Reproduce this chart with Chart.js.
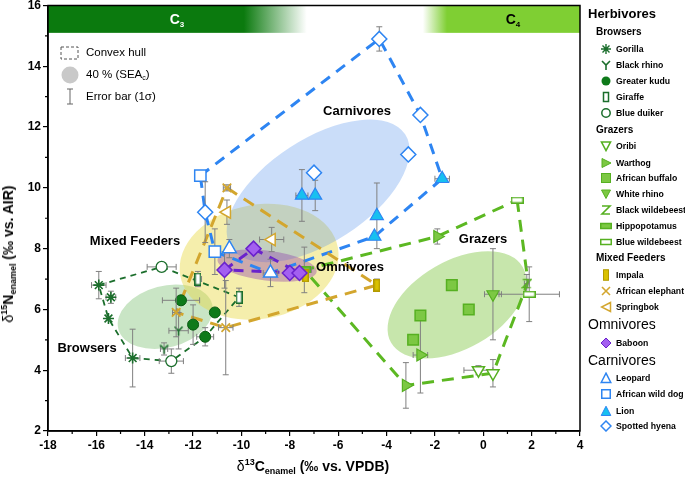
<!DOCTYPE html>
<html>
<head>
<meta charset="utf-8">
<script src="https://cdn.jsdelivr.net/npm/chart.js@4.4.1/dist/chart.umd.min.js"></script>
<style>
  body { margin: 0; background: #fff; font-family: "Liberation Sans", Arial, sans-serif; }
  #wrap { position: relative; width: 685px; height: 477px; overflow: hidden; }
  #chart { position: absolute; left: 0; top: 0; }
  .t { position: absolute; white-space: nowrap; color: #000; line-height: 1; }
  .c { transform: translate(-50%, -50%); }
  .grp { font-weight: bold; font-size: 13px; }
  .band { font-weight: bold; font-size: 14px; }
  .band sub { font-size: 8px; vertical-align: -3px; }
  .ax { font-weight: bold; font-size: 14px; }
  .ax sup { font-size: 9px; vertical-align: 6px; }
  .ax sub { font-size: 9px; vertical-align: -3px; }
  .ax .d { font-weight: normal; }
  .il { font-size: 11.5px; transform: translateY(-50%); }
  .il sub { font-size: 7px; vertical-align: -2px; }
  .lg { transform: translateY(-50%); }
  .h1 { font-weight: bold; font-size: 13px; }
  .h2 { font-weight: bold; font-size: 10px; }
  .h3 { font-size: 14px; }
  .it { font-weight: bold; font-size: 8.7px; }
  svg.ic { position: absolute; }
</style>
</head>
<body>
<div id="wrap">
  <canvas id="chart" width="685" height="477"></canvas>

  <div class="t band c" style="left:177px; top:20px; color:#fff;">C<sub>3</sub></div>
  <div class="t band c" style="left:513px; top:20px;">C<sub>4</sub></div>

  <div class="t grp c" style="left:357px; top:110px;">Carnivores</div>
  <div class="t grp c" style="left:135px; top:240px;">Mixed Feeders</div>
  <div class="t grp c" style="left:350px; top:266px;">Omnivores</div>
  <div class="t grp c" style="left:483px; top:238px;">Grazers</div>
  <div class="t grp c" style="left:87px; top:347px;">Browsers</div>

  <svg class="ic" style="left:60px; top:46px;" width="20" height="15"><rect x="1" y="1" width="17" height="12" fill="none" stroke="#555" stroke-width="1" stroke-dasharray="3,2"/></svg>
  <div class="t il" style="left:86px; top:53px;">Convex hull</div>
  <svg class="ic" style="left:61px; top:66px;" width="18" height="18"><circle cx="9" cy="9" r="8.5" fill="#c9c9c9"/></svg>
  <div class="t il" style="left:86px; top:75px;">40 % (SEA<sub>c</sub>)</div>
  <svg class="ic" style="left:66px; top:88px;" width="8" height="17"><path d="M1 1H7M4 1V16M1 16H7" fill="none" stroke="#666" stroke-width="1"/></svg>
  <div class="t il" style="left:86px; top:97px;">Error bar (1σ)</div>

  <div class="t ax c" style="left:313px; top:467px;"><span class="d">δ</span><sup>13</sup>C<sub>enamel</sub> (‰ vs. VPDB)</div>
  <div class="t ax" style="left:9px; top:254px; transform: translate(-50%, -50%) rotate(-90deg);"><span class="d">δ</span><sup>15</sup>N<sub>enamel</sub> (‰ vs. AIR)</div>

  <div id="legend"></div>
</div>

<script>
// ---- data: [δ13C, δ15N, σ x, σ y] ----
// Browsers
var gorilla      = [[-15.9, 6.8, 0.3, 0.45], [-15.4, 6.4, 0.2, 0.2], [-15.5, 5.7, 0, 0], [-14.5, 4.4, 0.3, 0.95]];
var blackRhino   = [[-12.6, 5.3, 0.4, 0.6], [-13.2, 4.7, 0.15, 0.2]];
var greaterKudu  = [[-12.5, 6.3, 0.77, 0], [-12.0, 5.5, 0.2, 0.65], [-11.1, 5.9, 0, 0], [-11.5, 5.1, 0.35, 0.3]];
var giraffe      = [[-11.8, 7.0, 0.15, 0.25], [-10.1, 6.4, 0.05, 0.3]];
var blueDuiker   = [[-13.3, 7.4, 0.6, 0.05], [-12.9, 4.3, 0.5, 0.4]];
// Grazers
var oribi        = [[-0.2, 4.0, 0.6, 0.15], [0.4, 3.9, 0.05, 0.45]];
var warthog      = [[-3.2, 3.5, 0.1, 0.75], [-2.6, 4.5, 0.3, 1.25], [-1.9, 8.4, 0.05, 0.25]];
var buffalo      = [[-2.9, 5.0, 0, 0], [-2.6, 5.8, 0, 0], [-1.3, 6.8, 0, 0], [-0.6, 6.0, 0, 0]];
var whiteRhino   = [[0.4, 6.5, 0.35, 1.5]];
var blackWildebeest = [[1.8, 6.85, 0.1, 0.3]];
var hippopotamus = [[-7.4, 7.3, 0.3, 0.75]];
var blueWildebeest = [[1.9, 6.5, 1.25, 0.9], [1.4, 9.6, 0, 0]];
// Mixed feeders
var impala       = [[-4.4, 6.8, 0.1, 0.2], [-7.35, 7.1, 0, 0]];
var elephant     = [[-10.6, 10.0, 0.15, 0.1], [-12.7, 5.9, 0.15, 0.8], [-10.65, 5.4, 0.3, 1.55]];
var springbok    = [[-10.6, 9.2, 0, 0.4], [-8.75, 8.3, 0.5, 0.4]];
// Omnivores
var baboon       = [[-10.7, 7.3, 0, 0.6], [-9.5, 8.0, 0, 0], [-8.0, 7.2, 0, 0], [-7.6, 7.2, 0, 0]];
// Carnivores
var leopard      = [[-10.5, 8.0, 0, 0.3], [-8.8, 7.2, 0.3, 0.45]];
var wildDog      = [[-11.7, 10.4, 0, 0], [-11.1, 7.9, 0, 0.75]];
var lion         = [[-7.5, 9.75, 0.25, 0.85], [-6.95, 9.75, 0, 0.5], [-4.4, 9.08, 0, 1.08], [-4.5, 8.4, 0, 0], [-1.7, 10.3, 0.3, 0]];
var hyena        = [[-4.3, 14.9, 0, 0.4], [-2.6, 12.4, 0, 0], [-3.1, 11.1, 0, 0], [-7.0, 10.5, 0, 0], [-11.5, 9.2, 0, 1.0]];

// convex hulls
var hullBrowsers   = [[-15.9, 6.8], [-13.3, 7.4], [-10.1, 6.4], [-11.5, 5.1], [-12.9, 4.3], [-14.5, 4.4], [-15.5, 5.7], [-15.9, 6.8]];
var hullGrazers    = [[1.4, 9.6], [1.85, 6.9], [0.4, 3.9], [-3.2, 3.5], [-7.4, 7.3], [-1.9, 8.4], [1.4, 9.6]];
var hullMixed      = [[-10.6, 10.0], [-4.4, 6.8], [-10.65, 5.4], [-12.7, 5.9], [-10.6, 10.0]];
var hullOmnivores  = [[-10.7, 7.3], [-9.5, 8.0], [-7.6, 7.2], [-10.7, 7.3]];
var hullCarnivores = [[-11.7, 10.4], [-4.3, 14.9], [-2.6, 12.4], [-1.7, 10.3], [-4.5, 8.4], [-8.8, 7.2], [-11.1, 7.9], [-11.5, 9.2], [-11.7, 10.4]];

// SEAc ellipses: centre x, centre y, half axis 1 (dx, dy), half axis 2 (dx, dy)
var seaBrowsers   = [-13.15, 5.76, 1.94, 0.41, -0.33, 0.98];
var seaMixed      = [-9.27, 7.57, 3.26, 0.46, -0.41, 1.85];
var seaCarnivores = [-6.83, 9.90, 3.60, 1.86, -1.17, 1.43];
var seaOmnivores  = [-8.94, 7.44, 2.05, -0.20, 0.076, 0.49];
var seaGrazers    = [-1.09, 6.15, 2.72, 1.25, -0.91, 1.25];

// C3 / C4 band
var bandY  = [15.1, 16];
var c3Band = [-18, -9.9, -7.3];
var c4Band = [-2.5, -1.5, 4];

var DG = '#1b6e2c', KUDU = '#0e7a1a', LGB = '#56b021', LGF = '#7cc843', GOLD = '#d3a62e',
    IMP = '#d9c100', PURB = '#6a22cc', PURF = '#a35ff0', BLU = '#2e85f2', CYAN = '#17c0f0';

function icon(w, h, draw) {
  var c = document.createElement('canvas');
  c.width = w; c.height = h;
  draw(c.getContext('2d'));
  return c;
}
var yIcon = icon(11, 11, function (g) {
  g.strokeStyle = DG; g.lineWidth = 1.6; g.beginPath();
  g.moveTo(1.5, 1.5); g.lineTo(5.5, 5.5); g.lineTo(9.5, 1.5); g.moveTo(5.5, 5.5); g.lineTo(5.5, 10.5); g.stroke();
});
var zIcon = icon(11, 11, function (g) {
  g.strokeStyle = LGB; g.lineWidth = 1.6; g.beginPath();
  g.moveTo(1.5, 1.5); g.lineTo(9.5, 1.5); g.lineTo(1.5, 9.5); g.lineTo(9.5, 9.5); g.stroke();
});
function boxIcon(w, h, fill, stroke) {
  return icon(w, h, function (g) {
    g.fillStyle = fill; g.fillRect(1, 1, w - 2, h - 2);
    g.strokeStyle = stroke; g.lineWidth = 1.5; g.strokeRect(0.75, 0.75, w - 1.5, h - 1.5);
  });
}
var giraffeIcon = boxIcon(7, 13, '#fff', DG);
var impalaIcon  = boxIcon(7, 13, IMP, '#b39a00');
var hippoIcon   = boxIcon(13, 7, LGF, LGB);
var blueWbIcon  = boxIcon(13, 7, '#fff', LGB);

function species(arr, style) {
  var d = {
    data: arr.map(function (p) { return {x: p[0], y: p[1]}; }),
    errors: arr.map(function (p) { return [p[2], p[3]]; }),
    showLine: false, order: 0, pointRadius: 5, pointBorderWidth: 1.5
  };
  for (var k in style) d[k] = style[k];
  return d;
}
function hull(arr, color, width, dash) {
  return {
    data: arr.map(function (p) { return {x: p[0], y: p[1]}; }),
    showLine: true, pointRadius: 0, borderColor: color, borderWidth: width, borderDash: dash, fill: false, order: 5
  };
}

var datasets = [
  hull(hullBrowsers, DG, 1.8, [6, 5]),
  hull(hullMixed, GOLD, 3, [12, 8]),
  hull(hullGrazers, '#5cb822', 3, [12, 8]),
  hull(hullOmnivores, PURB, 3, [10, 8]),
  hull(hullCarnivores, BLU, 3, [11, 8]),

  species(hyena, {pointStyle: 'rectRot', pointRadius: 7.5, pointBackgroundColor: '#fff', pointBorderColor: BLU}),
  species(lion, {pointStyle: 'triangle', pointRadius: 7.5, pointBackgroundColor: CYAN, pointBorderColor: BLU, pointBorderWidth: 1.2}),
  species(wildDog, {pointStyle: 'rect', pointRadius: 8, pointBackgroundColor: '#fff', pointBorderColor: BLU}),
  species(leopard, {pointStyle: 'triangle', pointRadius: 8, pointBackgroundColor: '#fff', pointBorderColor: BLU}),
  species(baboon, {pointStyle: 'rectRot', pointRadius: 7.5, pointBackgroundColor: PURF, pointBorderColor: PURB}),
  species(springbok, {pointStyle: 'triangle', pointRotation: -90, pointRadius: 7, pointBackgroundColor: '#fff', pointBorderColor: GOLD}),
  species(elephant, {pointStyle: 'crossRot', pointRadius: 6, pointBorderColor: GOLD, pointBorderWidth: 1.8}),
  species(impala, {pointStyle: impalaIcon}),
  species(blueWildebeest, {pointStyle: blueWbIcon}),
  species(hippopotamus, {pointStyle: hippoIcon}),
  species(blackWildebeest, {pointStyle: zIcon}),
  species(whiteRhino, {pointStyle: 'triangle', pointRotation: 180, pointRadius: 7, pointBackgroundColor: LGF, pointBorderColor: LGB, pointBorderWidth: 1.2}),
  species(buffalo, {pointStyle: 'rect', pointRadius: 7.5, pointBackgroundColor: LGF, pointBorderColor: LGB}),
  species(warthog, {pointStyle: 'triangle', pointRotation: 90, pointRadius: 7, pointBackgroundColor: LGF, pointBorderColor: LGB, pointBorderWidth: 1.2}),
  species(oribi, {pointStyle: 'triangle', pointRotation: 180, pointRadius: 7, pointBackgroundColor: '#fff', pointBorderColor: LGB}),
  species(blueDuiker, {pointStyle: 'circle', pointRadius: 5.5, pointBackgroundColor: '#fff', pointBorderColor: DG, pointBorderWidth: 1.3}),
  species(giraffe, {pointStyle: giraffeIcon}),
  species(greaterKudu, {pointStyle: 'circle', pointRadius: 5.5, pointBackgroundColor: KUDU, pointBorderColor: '#0a5c12', pointBorderWidth: 1}),
  species(blackRhino, {pointStyle: yIcon}),
  species(gorilla, {pointStyle: 'star', pointRadius: 5.5, pointBorderColor: DG, pointBorderWidth: 1.6})
];

var seas = [
  [seaBrowsers, 'rgba(100,180,90,0.35)'],
  [seaMixed, 'rgba(232,218,70,0.45)'],
  [seaCarnivores, 'rgba(90,150,235,0.32)'],
  [seaOmnivores, 'rgba(140,60,170,0.38)'],
  [seaGrazers, 'rgba(130,200,70,0.45)']
];

var seaPlugin = {
  id: 'sea',
  beforeDatasetsDraw: function (chart) {
    var ctx = chart.ctx, xs = chart.scales.x, ys = chart.scales.y, a = chart.chartArea;
    ctx.save();
    ctx.beginPath(); ctx.rect(a.left, a.top, a.right - a.left, a.bottom - a.top); ctx.clip();
    seas.forEach(function (s) {
      var p = s[0];
      var cx = xs.getPixelForValue(p[0]), cy = ys.getPixelForValue(p[1]);
      var ux = xs.getPixelForValue(p[0] + p[2]) - cx, uy = ys.getPixelForValue(p[1] + p[3]) - cy;
      var vx = xs.getPixelForValue(p[0] + p[4]) - cx, vy = ys.getPixelForValue(p[1] + p[5]) - cy;
      ctx.save();
      ctx.transform(ux, uy, vx, vy, cx, cy);
      ctx.beginPath(); ctx.arc(0, 0, 1, 0, Math.PI * 2);
      ctx.restore();
      ctx.fillStyle = s[1];
      ctx.fill();
    });
    ctx.restore();
  }
};

var bandPlugin = {
  id: 'band',
  beforeDatasetsDraw: function (chart) {
    var ctx = chart.ctx, xs = chart.scales.x, ys = chart.scales.y;
    var top = ys.getPixelForValue(bandY[1]), h = ys.getPixelForValue(bandY[0]) - top;
    var a0 = xs.getPixelForValue(c3Band[0]), a1 = xs.getPixelForValue(c3Band[1]), a2 = xs.getPixelForValue(c3Band[2]);
    var g = ctx.createLinearGradient(a0, 0, a2, 0);
    g.addColorStop(0, '#0b7a0e'); g.addColorStop((a1 - a0) / (a2 - a0), '#0b7a0e'); g.addColorStop(1, '#ffffff');
    ctx.fillStyle = g; ctx.fillRect(a0, top, a2 - a0, h);
    var b0 = xs.getPixelForValue(c4Band[0]), b1 = xs.getPixelForValue(c4Band[1]), b2 = xs.getPixelForValue(c4Band[2]);
    var g2 = ctx.createLinearGradient(b0, 0, b2, 0);
    g2.addColorStop(0, '#ffffff'); g2.addColorStop((b1 - b0) / (b2 - b0), '#7fcf33'); g2.addColorStop(1, '#7fcf33');
    ctx.fillStyle = g2; ctx.fillRect(b0, top, b2 - b0, h);
  }
};

var errorPlugin = {
  id: 'errorBars',
  beforeDatasetDraw: function (chart, args) {
    var ds = chart.data.datasets[args.index];
    if (!ds.errors) return;
    var ctx = chart.ctx, xs = chart.scales.x, ys = chart.scales.y;
    ctx.save();
    ctx.strokeStyle = '#808080'; ctx.lineWidth = 1;
    ctx.beginPath();
    ds.data.forEach(function (p, i) {
      var e = ds.errors[i], px = xs.getPixelForValue(p.x), py = ys.getPixelForValue(p.y);
      if (e[0] > 0) {
        var l = xs.getPixelForValue(p.x - e[0]), r = xs.getPixelForValue(p.x + e[0]);
        ctx.moveTo(l, py); ctx.lineTo(r, py);
        ctx.moveTo(l, py - 3); ctx.lineTo(l, py + 3);
        ctx.moveTo(r, py - 3); ctx.lineTo(r, py + 3);
      }
      if (e[1] > 0) {
        var t = ys.getPixelForValue(p.y + e[1]), b = ys.getPixelForValue(p.y - e[1]);
        ctx.moveTo(px, t); ctx.lineTo(px, b);
        ctx.moveTo(px - 3, t); ctx.lineTo(px + 3, t);
        ctx.moveTo(px - 3, b); ctx.lineTo(px + 3, b);
      }
    });
    ctx.stroke();
    ctx.restore();
  }
};

var framePlugin = {
  id: 'frame',
  afterDraw: function (chart) {
    var ctx = chart.ctx, a = chart.chartArea, xs = chart.scales.x, ys = chart.scales.y;
    ctx.save();
    ctx.strokeStyle = '#000'; ctx.lineWidth = 1.5;
    ctx.strokeRect(a.left, a.top, a.right - a.left, a.bottom - a.top);
    ctx.lineWidth = 1.2; ctx.beginPath();
    for (var v = -17; v < 4; v += 2) {
      var x = xs.getPixelForValue(v);
      ctx.moveTo(x, a.bottom); ctx.lineTo(x, a.bottom + 3);
    }
    for (var w = 3; w < 16; w += 2) {
      var y = ys.getPixelForValue(w);
      ctx.moveTo(a.left, y); ctx.lineTo(a.left - 3, y);
    }
    ctx.stroke();
    ctx.restore();
  }
};

// let the plot run right up to the top edge, as in the original figure
var noPadPlugin = {
  id: 'noPad',
  beforeLayout: function (chart) {
    var y = chart.scales.y;
    if (y) y.getPadding = function () { return {left: 0, top: 0, right: 0, bottom: 0}; };
  }
};

Chart.defaults.font.family = "'Liberation Sans', Arial, sans-serif";

var axisTicks = {color: '#000', font: {size: 12, weight: 'bold'}, padding: 2, stepSize: 2};
var axisGrid = {display: true, drawOnChartArea: false, drawTicks: true, tickLength: 5, color: '#000', lineWidth: 1.2};

new Chart(document.getElementById('chart').getContext('2d'), {
  type: 'scatter',
  data: {datasets: datasets},
  options: {
    responsive: false,
    animation: false,
    layout: {autoPadding: false, padding: {left: 0, right: 105, top: 5.5, bottom: 0}},
    plugins: {legend: {display: false}, tooltip: {enabled: false}},
    scales: {
      x: {min: -18, max: 4, ticks: axisTicks, grid: axisGrid,
          border: {display: true, color: '#000', width: 1.5},
          afterFit: function (s) { s.height = 46; }},
      y: {min: 2, max: 16, ticks: axisTicks, grid: axisGrid,
          border: {display: true, color: '#000', width: 1.5},
          afterFit: function (s) { s.width = 48; }}
    }
  },
  plugins: [noPadPlugin, seaPlugin, bandPlugin, errorPlugin, framePlugin]
});

// ---- right-hand legend ----
var icons = {
  gorilla: '<path d="M6 1V11M1 6H11M2.5 2.5L9.5 9.5M9.5 2.5L2.5 9.5" stroke="' + DG + '" stroke-width="1.4" fill="none"/>',
  blackRhino: '<path d="M2 2L6 6L10 2M6 6V11" stroke="' + DG + '" stroke-width="1.6" fill="none"/>',
  kudu: '<circle cx="6" cy="6" r="4.5" fill="' + KUDU + '"/>',
  giraffe: '<rect x="3.5" y="1.5" width="5" height="9" fill="#fff" stroke="' + DG + '" stroke-width="1.5"/>',
  duiker: '<circle cx="6" cy="6" r="4.2" fill="#fff" stroke="' + DG + '" stroke-width="1.5"/>',
  oribi: '<polygon points="1.5,2 10.5,2 6,10.5" fill="#fff" stroke="' + LGB + '" stroke-width="1.6"/>',
  warthog: '<polygon points="2,1.5 11,6 2,10.5" fill="' + LGF + '" stroke="' + LGB + '"/>',
  buffalo: '<rect x="1.5" y="1.5" width="9" height="9" fill="' + LGF + '" stroke="' + LGB + '"/>',
  whiteRhino: '<polygon points="1.5,2 10.5,2 6,10.5" fill="' + LGF + '" stroke="' + LGB + '"/>',
  blackWildebeest: '<path d="M2 2H10L2 10H10" stroke="' + LGB + '" stroke-width="1.6" fill="none"/>',
  hippo: '<rect x="0.75" y="3.5" width="10.5" height="5" fill="' + LGF + '" stroke="' + LGB + '" stroke-width="1.5"/>',
  blueWildebeest: '<rect x="0.75" y="3.5" width="10.5" height="5" fill="#fff" stroke="' + LGB + '" stroke-width="1.5"/>',
  impala: '<rect x="3.5" y="0.75" width="5" height="10.5" fill="' + IMP + '" stroke="#b39a00"/>',
  elephant: '<path d="M2 2L10 10M10 2L2 10" stroke="' + GOLD + '" stroke-width="1.6" fill="none"/>',
  springbok: '<polygon points="10.5,1.5 1.5,6 10.5,10.5" fill="#fff" stroke="' + GOLD + '" stroke-width="1.5"/>',
  baboon: '<polygon points="6,1 11,6 6,11 1,6" fill="' + PURF + '" stroke="' + PURB + '"/>',
  leopard: '<polygon points="6,1.2 10.8,10.5 1.2,10.5" fill="#fff" stroke="' + BLU + '" stroke-width="1.5"/>',
  wildDog: '<rect x="1.75" y="1.75" width="8.5" height="8.5" fill="#fff" stroke="' + BLU + '" stroke-width="1.5"/>',
  lion: '<polygon points="6,1.2 10.8,10.5 1.2,10.5" fill="' + CYAN + '" stroke="' + BLU + '"/>',
  hyena: '<polygon points="6,1 11,6 6,11 1,6" fill="#fff" stroke="' + BLU + '" stroke-width="1.5"/>'
};

var legendRows = [
  ['h1', 'Herbivores', 12.7], ['h2', 'Browsers', 32.3],
  ['it', 'Gorilla', 49, 'gorilla'], ['it', 'Black rhino', 65, 'blackRhino'], ['it', 'Greater kudu', 81, 'kudu'],
  ['it', 'Giraffe', 97, 'giraffe'], ['it', 'Blue duiker', 113, 'duiker'],
  ['h2', 'Grazers', 129.7],
  ['it', 'Oribi', 146, 'oribi'], ['it', 'Warthog', 163, 'warthog'], ['it', 'African buffalo', 178.3, 'buffalo'],
  ['it', 'White rhino', 194, 'whiteRhino'], ['it', 'Black wildebeest', 210, 'blackWildebeest'],
  ['it', 'Hippopotamus', 226, 'hippo'], ['it', 'Blue wildebeest', 241.7, 'blueWildebeest'],
  ['h2', 'Mixed Feeders', 258.3],
  ['it', 'Impala', 275, 'impala'], ['it', 'African elephant', 291, 'elephant'], ['it', 'Springbok', 306.7, 'springbok'],
  ['h3', 'Omnivores', 324],
  ['it', 'Baboon', 342.7, 'baboon'],
  ['h3', 'Carnivores', 360],
  ['it', 'Leopard', 378.3, 'leopard'], ['it', 'African wild dog', 394.3, 'wildDog'],
  ['it', 'Lion', 411, 'lion'], ['it', 'Spotted hyena', 426, 'hyena']
];

var html = '';
legendRows.forEach(function (r) {
  var left = r[0] === 'it' ? 616 : (r[0] === 'h2' ? 596 : 588);
  html += '<div class="t lg ' + r[0] + '" style="left:' + left + 'px; top:' + r[2] + 'px;">' + r[1] + '</div>';
  if (r[3]) {
    html += '<svg class="ic" width="12" height="12" style="left:600px; top:' + (r[2] - 6) + 'px;">' + icons[r[3]] + '</svg>';
  }
});
document.getElementById('legend').innerHTML = html;
</script>
</body>
</html>
